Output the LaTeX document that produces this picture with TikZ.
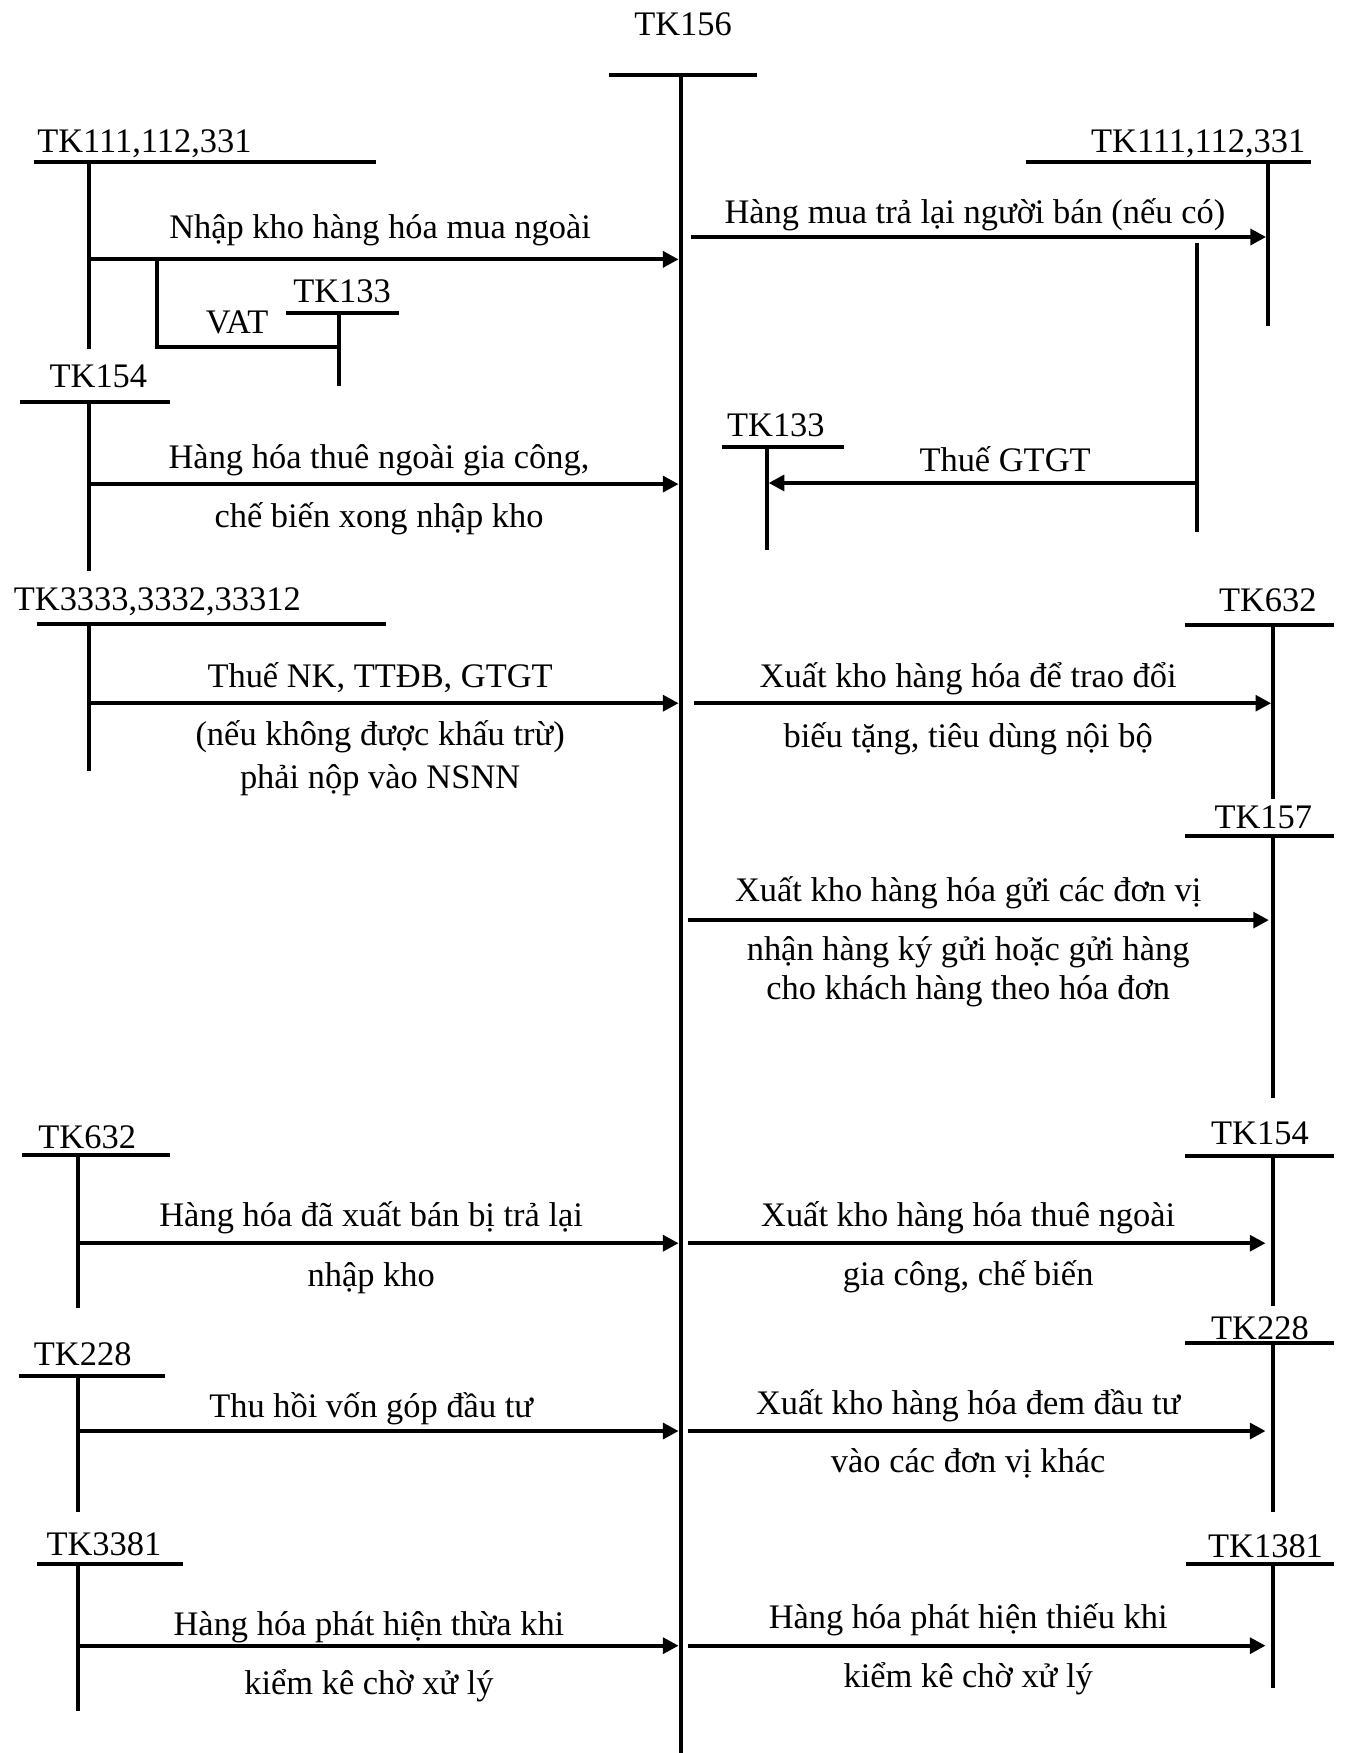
\documentclass[tikz,border=0pt]{standalone}
\usepackage{fontspec}
\setmainfont{Liberation Serif}
\usetikzlibrary{arrows.meta}
\tikzset{
  acc/.style={line width=1.8pt},
  flow/.style={line width=1.8pt,-{Triangle[length=7pt,width=7pt]}},
  tk/.style={inner sep=0pt},
  lbl/.style={inner sep=0pt,anchor=base},
}
% #1 name, #2 text, #3 anchor, #4 text pos, #5 bar left x, #6 bar right x, #7 bar y, #8 stem x, #9 stem end y
\newcommand{\tacct}[9]{%
  \node[tk,anchor=#3] (#1-t) at (#4) {#2};
  \coordinate (#1-l) at (#5,#7);
  \coordinate (#1-r) at (#6,#7);
  \coordinate (#1-top) at (#8,#7);
  \coordinate (#1-bot) at (#8,#9);
  \draw[acc] (#1-l) -- (#1-r);
  \draw[acc] (#1-top) -- (#1-bot);
}
\begin{document}
\begin{tikzpicture}[x=0.5pt,y=-0.5pt,font=\fontsize{15.4pt}{18pt}\selectfont]
\useasboundingbox (0,0) rectangle (1203,1568);
% main account
\tacct{m}{TK156}{base}{611,32}{545}{677}{67}{609}{1568}
% ---------- left side ----------
\tacct{a}{TK111,112,331}{base west}{33,136}{30}{336}{145}{80}{312}
\coordinate (a1) at (80,232); \coordinate (m1) at (607,232);
\draw[flow] (a1) -- (m1);
\node[lbl] (la1) at (340,213) {Nhập kho hàng hóa mua ngoài};
\tacct{b}{TK133}{base}{306,271}{256}{357}{280}{303}{345}
\coordinate (br1) at (140,232); \coordinate (br2) at (140,310); \coordinate (br3) at (303,310);
\draw[acc] (br1) -- (br2) -- (br3);
\node[lbl] (vat) at (212,298) {VAT};

\tacct{c}{TK154}{base}{88,347}{18}{152}{360}{80}{511}
\coordinate (c1) at (80,433); \coordinate (m2) at (607,433);
\draw[flow] (c1) -- (m2);
\node[lbl] (lc1) at (339,419.5) {Hàng hóa thuê ngoài gia công,};
\node[lbl] (lc2) at (339,472) {chế biến xong nhập kho};

\tacct{d}{TK3333,3332,33312}{base west}{12,546.5}{33}{345}{558}{80}{690}
\coordinate (d1) at (80,629); \coordinate (m3) at (607,629);
\draw[flow] (d1) -- (m3);
\node[lbl] (ld1) at (340,615) {Thuế NK, TTĐB, GTGT};
\node[lbl] (ld2) at (340,667) {(nếu không được khấu trừ)};
\node[lbl] (ld3) at (340,705) {phải nộp vào NSNN};

\tacct{e}{TK632}{base}{78,1027}{20}{152}{1033}{70}{1170}
\coordinate (e1) at (70,1112); \coordinate (m4) at (607,1112);
\draw[flow] (e1) -- (m4);
\node[lbl] (le1) at (332,1097) {Hàng hóa đã xuất bán bị trả lại};
\node[lbl] (le2) at (332,1151) {nhập kho};

\tacct{f}{TK228}{base}{74,1221}{17}{148}{1231}{70}{1352}
\coordinate (f1) at (70,1280); \coordinate (m5) at (607,1280);
\draw[flow] (f1) -- (m5);
\node[lbl] (lf1) at (332,1268) {Thu hồi vốn góp đầu tư};

\tacct{g}{TK3381}{base}{93,1391}{33}{164}{1398.5}{70}{1530}
\coordinate (g1) at (70,1472); \coordinate (m6) at (607,1472);
\draw[flow] (g1) -- (m6);
\node[lbl] (lg1) at (330,1463) {Hàng hóa phát hiện thừa khi};
\node[lbl] (lg2) at (330,1516) {kiểm kê chờ xử lý};

% ---------- right side ----------
\tacct{p}{TK111,112,331}{base east}{1168,136}{918}{1173}{145}{1134}{292}
\coordinate (mp) at (618,212); \coordinate (p1) at (1132.5,212);
\draw[flow] (mp) -- (p1);
\node[lbl] (lp1) at (872,199.5) {Hàng mua trả lại người bán (nếu có)};
\coordinate (s1) at (1071,217); \coordinate (s2) at (1071,476);
\draw[acc] (s1) -- (s2);
\tacct{q}{TK133}{base}{694,390.5}{646}{755}{400}{686}{492}
\coordinate (s3) at (1071,432); \coordinate (q1) at (687.5,432);
\draw[flow] (s3) -- (q1);
\node[lbl] (lq1) at (899,421.5) {Thuế GTGT};

\tacct{r}{TK632}{base}{1134,547}{1060}{1193}{558.8}{1139}{715}
\coordinate (mr) at (621,629); \coordinate (r1) at (1137,629);
\draw[flow] (mr) -- (r1);
\node[lbl] (lr1) at (866,614.5) {Xuất kho hàng hóa để trao đổi};
\node[lbl] (lr2) at (866,669) {biếu tặng, tiêu dùng nội bộ};

\tacct{t}{TK157}{base}{1130,741.5}{1060}{1193}{748}{1139}{982}
\coordinate (mt) at (615,823); \coordinate (t1) at (1135,823);
\draw[flow] (mt) -- (t1);
\node[lbl] (lt1) at (866,806) {Xuất kho hàng hóa gửi các đơn vị};
\node[lbl] (lt2) at (866,859.5) {nhận hàng ký gửi hoặc gửi hàng};
\node[lbl] (lt3) at (866,894) {cho khách hàng theo hóa đơn};

\tacct{u}{TK154}{base}{1127,1024}{1060}{1193}{1034}{1139}{1168}
\coordinate (mu) at (615,1112); \coordinate (u1) at (1132,1112);
\draw[flow] (mu) -- (u1);
\node[lbl] (lu1) at (866,1097) {Xuất kho hàng hóa thuê ngoài};
\node[lbl] (lu2) at (866,1149.5) {gia công, chế biến};

\tacct{v}{TK228}{base}{1127,1198.5}{1060}{1193}{1201}{1139}{1352.5}
\coordinate (mv) at (615,1280); \coordinate (v1) at (1132,1280);
\draw[flow] (mv) -- (v1);
\node[lbl] (lv1) at (866,1265.5) {Xuất kho hàng hóa đem đầu tư};
\node[lbl] (lv2) at (866,1317.5) {vào các đơn vị khác};

\tacct{w}{TK1381}{base}{1132,1393}{1061}{1193}{1398.5}{1139}{1510}
\coordinate (mw) at (615,1472); \coordinate (w1) at (1132,1472);
\draw[flow] (mw) -- (w1);
\node[lbl] (lw1) at (866,1457) {Hàng hóa phát hiện thiếu khi};
\node[lbl] (lw2) at (866,1509) {kiểm kê chờ xử lý};
\end{tikzpicture}
\end{document}
